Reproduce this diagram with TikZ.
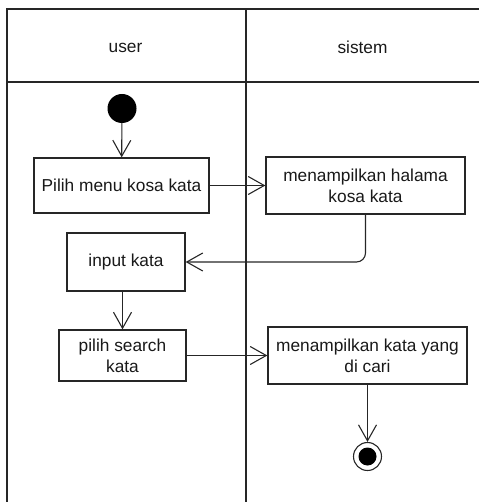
\documentclass[tikz,border=0pt]{standalone}
\usepackage{fontspec}
\setmainfont{Liberation Sans}
\usetikzlibrary{arrows.meta}
\tikzset{
  lane/.style={line width=1.3pt, draw=black!85},
  act/.style={draw=black!85, line width=1.3pt, fill=white, rectangle,
    inner sep=0pt, align=center, font=\fontsize{17.3}{21}\selectfont, text=black!90},
  flow/.style={line width=1.1pt, draw=black!85,
    -{Straight Barb[length=16pt,width=18pt,line width=1.1pt]}},
  lanehead/.style={font=\fontsize{17.3}{21}\selectfont, text=black!90}
}
\begin{document}
\begin{tikzpicture}[x=1pt,y=-1pt]
\useasboundingbox (0,0) rectangle (478,502);
% swimlane frame
\draw[lane] (7,502) -- (7,9) -- (480,9);
\draw[lane] (7,82) -- (480,82);
\draw[lane] (246,9) -- (246,502);
\node[lanehead] (huser) at (125.5,47.5) {user};
\node[lanehead] (hsys) at (362.5,47.5) {sistem};
% start and end
\node[circle, fill=black, minimum size=29pt, inner sep=0pt] (start) at (122,108.5) {};
\node[circle, draw=black!85, line width=1.1pt, fill=white, minimum size=28pt, inner sep=0pt] (end) at (367.5,456.5) {};
\node[circle, fill=black, minimum size=18pt, inner sep=0pt] (endin) at (367.5,456.5) {};
% activities
\node[act, minimum width=175pt, minimum height=55pt] (a1) at (121.5,185.5) {Pilih menu kosa kata};
\node[act, minimum width=199pt, minimum height=57pt] (a2) at (365.5,185.5) {menampilkan halama\\kosa kata};
\node[act, minimum width=118pt, minimum height=58pt] (a3) at (126,262) {input kata};
\node[act, minimum width=127pt, minimum height=51pt] (a4) at (122.5,355.5) {pilih search\\kata};
\node[act, minimum width=199pt, minimum height=57pt] (a5) at (367.5,355.5) {menampilkan kata yang\\di cari};
% flows
\draw[flow] (start) -- (a1);
\draw[flow] (a1) -- (a2);
\draw[flow, rounded corners=9pt] (a2.south) |- (a3.east);
\draw[flow] (a3.south -| a4.north) -- (a4.north);
\draw[flow] (a4) -- (a5);
\draw[flow] (a5.south) -- (end.north);
\end{tikzpicture}
\end{document}
